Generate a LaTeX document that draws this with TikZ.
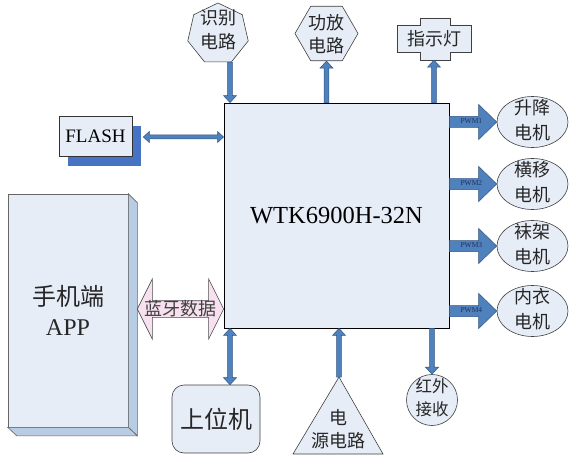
\documentclass[tikz,border=0pt]{standalone}
\usepackage{fontspec}
\setmainfont{Liberation Serif}
\newfontfamily\cjk{Noto Sans CJK SC}
\usetikzlibrary{shapes.geometric,shadows,calc}

\definecolor{boxfill}{RGB}{231,237,247}
\definecolor{arrowblue}{RGB}{79,129,189}
\definecolor{arrowdark}{RGB}{50,84,130}
\definecolor{flashshadow}{RGB}{71,115,196}
\definecolor{sidefill}{RGB}{184,204,228}
\definecolor{btpink}{RGB}{247,225,240}
\definecolor{pwmtext}{RGB}{30,50,95}

\newcommand\arrpt[2]{({\x1+\n2*(#1)-\n3*(#2)},{\y1+\n3*(#1)+\n2*(#2)})}
% single block arrow: [style]{from}{to}{shaft half}{head half}{head length}
\newcommand\sarrow[6][]{%
  \draw[blockarr,#1] let \p1=#2, \p2=#3,
    \n1={veclen(\x2-\x1,\y2-\y1)}, \n2={(\x2-\x1)/\n1}, \n3={(\y2-\y1)/\n1} in
    \arrpt{0}{#4} -- \arrpt{\n1-#6}{#4} -- \arrpt{\n1-#6}{#5} -- \arrpt{\n1}{0}
    -- \arrpt{\n1-#6}{-#5} -- \arrpt{\n1-#6}{-#4} -- \arrpt{0}{-#4} -- cycle;}
% double block arrow
\newcommand\darrow[6][]{%
  \draw[blockarr,#1] let \p1=#2, \p2=#3,
    \n1={veclen(\x2-\x1,\y2-\y1)}, \n2={(\x2-\x1)/\n1}, \n3={(\y2-\y1)/\n1} in
    \arrpt{0}{0} -- \arrpt{#6}{#5} -- \arrpt{#6}{#4} -- \arrpt{\n1-#6}{#4}
    -- \arrpt{\n1-#6}{#5} -- \arrpt{\n1}{0} -- \arrpt{\n1-#6}{-#5}
    -- \arrpt{\n1-#6}{-#4} -- \arrpt{#6}{-#4} -- \arrpt{#6}{-#5} -- cycle;}

\tikzset{
  shapebox/.style={draw=black!75, fill=boxfill, line width=0.6pt},
  cjklbl/.style={font=\cjk\fontsize{18}{24}\selectfont, align=center, text=black!85, inner sep=0pt},
  blockarr/.style={draw=arrowdark, fill=arrowblue, line width=0.5pt},
  pinkarr/.style={draw=black!70, fill=btpink, line width=0.6pt},
  pwmlbl/.style={font=\fontsize{7.5}{8}\selectfont, text=pwmtext, inner sep=0pt},
}

\begin{document}
\begin{tikzpicture}[x=1pt,y=-1pt]
\useasboundingbox (0,0) rectangle (569,457);

% main chip
\node[draw=black, line width=0.8pt, fill=boxfill, minimum width=225pt, minimum height=225pt,
      inner sep=0pt, font=\fontsize{24.5}{28}\selectfont] (main) at (336.5,215.5) {WTK6900H-32N};

% top: recognition circuit (heptagon)
\node[shapebox, regular polygon, regular polygon sides=7, minimum size=62pt, inner sep=0pt] (shib) at (218,34) {};
\node[cjklbl] (shibt) at (218,30) {识别\\电路};
\coordinate (t1) at ($(shib.south)+(12,0)$);
\sarrow{(t1)}{(t1 |- main.north)}{2.4}{6.5}{7}

% top: amplifier (hexagon)
\node[shapebox, regular polygon, regular polygon sides=6, minimum size=63pt, inner sep=0pt] (gf) at (326.5,33.5) {};
\node[cjklbl, font=\cjk\fontsize{18}{22.5}\selectfont] (gft) at (326.5,34) {功放\\电路};
\sarrow{(main.north -| gf.south)}{(gf.south)}{2.4}{6.5}{7}

% top: indicator light (cross shape)
\draw[shapebox] (420,18) -- (450,18) -- (450,25) -- (471,25) -- (471,52) -- (450,52) -- (450,60)
  -- (420,60) -- (420,52) -- (397,52) -- (397,25) -- (420,25) -- cycle;
\node[cjklbl, minimum width=74pt, minimum height=42pt] (zsd) at (434,39) {指示灯};
\sarrow{(main.north -| zsd.south)}{(zsd.south)}{2.4}{6.5}{7}

% FLASH
\node[draw=black!80, line width=0.6pt, fill=boxfill, minimum width=73pt, minimum height=40pt, inner sep=0pt,
      font=\fontsize{19}{22}\selectfont,
      drop shadow={shadow xshift=9pt, shadow yshift=-10pt, fill=flashshadow, opacity=1}] (flash) at (95.5,136) {FLASH};
\coordinate (f1) at ($(flash.east)+(11,1)$);
\darrow{(f1)}{(f1 -| main.west)}{2}{5.5}{6}

% phone box (3D)
\node[draw=black!60, line width=0.6pt, fill=boxfill, minimum width=120pt, minimum height=233pt, inner sep=0pt,
      align=center, font=\fontsize{24}{30}\selectfont, text=black!85] (phone) at (68,310.5) {{\cjk 手机端}\\APP};
\draw[draw=black!60, line width=0.6pt, fill=sidefill] (phone.north east) -- ++(9,9) -- ($(phone.south east)+(9,8.5)$)
  -- (phone.south east) -- cycle;
\draw[draw=black!60, line width=0.6pt, fill=sidefill] (phone.south west) -- (phone.south east) -- ++(9,8.5)
  -- ($(phone.south west)+(9,8.5)$) -- cycle;

% bluetooth data arrow
\coordinate (b1) at ($(phone.east)+(9,-1.5)$);
\darrow[pinkarr]{(b1)}{(b1 -| main.west)}{8.3}{30}{15}
\node[cjklbl, text=black!75] (btt) at (180.5,309) {蓝牙数据};

% host computer
\node[shapebox, rounded corners=12pt, minimum width=88pt, minimum height=68pt, inner sep=0pt,
      font=\cjk\fontsize{24}{28}\selectfont, text=black!85] (swj) at (216,419) {上位机};
\darrow{(t1 |- main.south)}{(t1 |- swj.north)}{2.4}{6.5}{7}

% power circuit (triangle)
\draw[shapebox] (339,377) -- (383,454) -- (293,454) -- cycle;
\coordinate (dy) at (339,377);
\node[cjklbl, font=\cjk\fontsize{18}{23}\selectfont] (dyt) at (338.5,429.5) {电\\源电路};
\sarrow{(dy)}{(dy |- main.south)}{2.4}{6.5}{7}

% IR receiver
\node[shapebox, circle, minimum size=51pt, inner sep=0pt] (hw) at (432,400) {};
\node[cjklbl, font=\cjk\fontsize{16.5}{23}\selectfont] (hwt) at (432,397.5) {红外\\接收};
\sarrow{(main.south -| hw.north)}{(hw.north)}{2.4}{6.5}{7}

% motors
\foreach \i/\yy/\lbl in {1/122/升降,2/184/横移,3/246/袜架,4/311/内衣}{
  \node[shapebox, ellipse, minimum width=71pt, minimum height=51pt, inner sep=0pt] (m\i) at (532.5,\yy) {};
  \node[cjklbl, font=\cjk\fontsize{18}{25}\selectfont] (mt\i) at ($(m\i.center)+(0,-1.5)$) {\lbl\\电机};
  \coordinate (p\i) at (main.east |- m\i.west);
  \sarrow{(p\i)}{(m\i.west)}{5.5}{17.5}{18}
  \node[pwmlbl] (pl\i) at ($(p\i)+(22,-0.5)$) {PWM\i};
}
\end{tikzpicture}
\end{document}
